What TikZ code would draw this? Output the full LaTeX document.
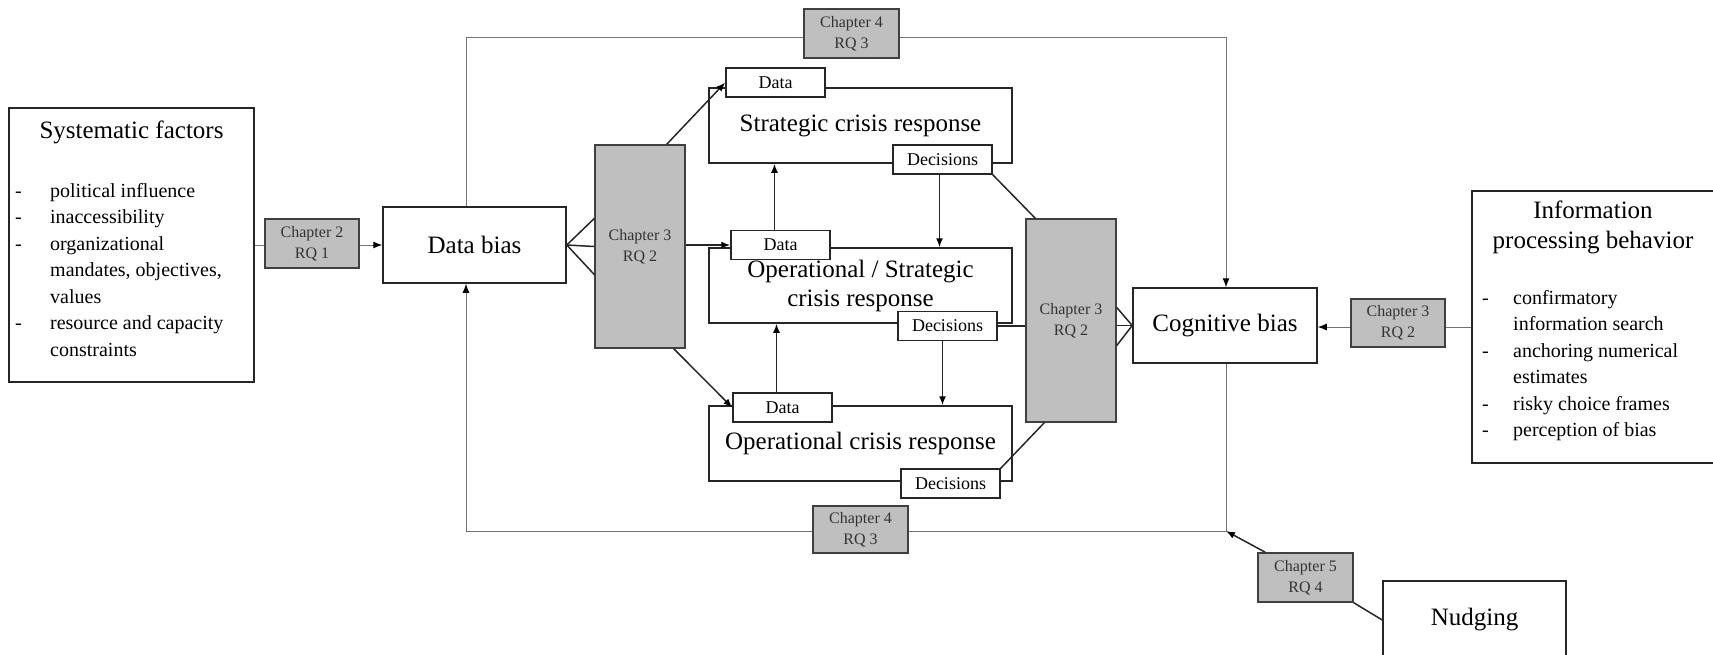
\documentclass[tikz,border=0pt]{standalone}
\usepackage{fontspec}
\setmainfont{Liberation Serif}
\usepackage{tikz}
\usetikzlibrary{arrows.meta}

\begin{document}
\begin{tikzpicture}[x=1pt, y=-1pt, >={Latex[length=9pt,width=7pt,color=black]},
        mainbox/.style={draw=black!85, line width=1.5pt, fill=white, inner sep=0pt, font=\fontsize{25}{29}\selectfont, align=center},
        chapbox/.style={draw=black!75, line width=1.5pt, fill=black!25, inner sep=0pt, minimum width=94pt, minimum height=49pt, font=\fontsize{16}{21}\selectfont, text=black!80, align=center},
        tagbox/.style={draw=black!85, line width=1.5pt, fill=white, inner sep=0pt, minimum width=99pt, minimum height=29pt, font=\fontsize{18}{20}\selectfont},
        listtext/.style={inner sep=0pt, anchor=north west, font=\fontsize{20}{26.5}\selectfont},
        link/.style={draw=black!85, line width=1.5pt},
        loopline/.style={draw=black!55, line width=1pt}]
    \path[use as bounding box, clip] (0,0) rectangle (1713,654);

    \node[mainbox, minimum width=245pt, minimum height=274pt] (factors) at (131.5,245) {};
    \node[anchor=base, inner sep=0pt, font=\fontsize{25}{30}\selectfont] (factorstitle) at (131.5,138) {Systematic factors};
    \node[listtext] (factorslist) at (15,178.45) {\begin{tabular}{@{}p{35pt}@{}l@{}}
            - & political influence\\
            - & inaccessibility\\
            - & organizational\\
              & mandates, objectives,\\
              & values\\
            - & resource and capacity\\
              & constraints
        \end{tabular}};

    \node[mainbox, minimum width=243pt, minimum height=272pt] (behavior) at (1593.5,327) {};
    \node[anchor=north, inner sep=0pt, align=center, font=\fontsize{25}{30}\selectfont] (behaviortitle) at (1593,197) {\strut Information\\processing behavior};
    \node[listtext] (behaviorlist) at (1482,285.5) {\begin{tabular}{@{}p{31pt}@{}l@{}}
            - & confirmatory\\
              & information search\\
            - & anchoring numerical\\
              & estimates\\
            - & risky choice frames\\
            - & perception of bias
        \end{tabular}};

    \node[mainbox, minimum width=183pt, minimum height=76pt] (dbias) at (474.5,245) {Data bias};
    \node[mainbox, minimum width=184pt, minimum height=75pt] (cog) at (1225,325.5) {Cognitive bias};
    \node[mainbox, minimum width=183pt, minimum height=78pt] (nudge) at (1474.5,620) {Nudging};

    \node[mainbox, minimum width=303pt, minimum height=75pt] (strat) at (860.5,125.5) {Strategic crisis response};
    \node[mainbox, minimum width=303pt, minimum height=75pt] (opstrat) at (860.5,285.5) {Operational / Strategic\\crisis response};
    \node[mainbox, minimum width=303pt, minimum height=75pt] (oper) at (860.5,443.5) {Operational crisis response};

    \node[tagbox] (stratdata) at (775.5,82.5) {Data};
    \node[tagbox] (stratdec) at (942.5,159.5) {Decisions};
    \node[tagbox] (opstratdata) at (780.5,245) {Data};
    \node[tagbox] (opstratdec) at (947.5,326) {Decisions};
    \node[tagbox] (operdata) at (782.5,407.5) {Data};
    \node[tagbox] (operdec) at (950.5,483.5) {Decisions};

    \node[chapbox, minimum width=90pt, minimum height=203pt] (chapL) at (640,246.5) {Chapter 3\\RQ 2};
    \node[chapbox, minimum width=90pt, minimum height=203pt] (chapR) at (1071,320.5) {Chapter 3\\RQ 2};
    \node[chapbox, minimum width=95pt] (chapfive) at (1305.5,577.5) {Chapter 5\\RQ 4};

    \foreach \dy in {28,0,-28}
        \draw[link] (dbias.east) -- ([yshift=\dy pt]chapL.west);
    \draw[link, ->] ([xshift=-19pt]chapL.north east) -- (stratdata.west);
    \draw[link, ->] (chapL.east |- opstratdata.west) -- (opstratdata.west);
    \draw[link, ->] ([xshift=-12pt]chapL.south east) -- (operdata.west);

    \draw[link, ->] ([xshift=-6pt]opstratdata.north) -- ([xshift=-6pt]opstratdata.north |- strat.south);
    \draw[link, ->] ([xshift=-6pt]operdata.north) -- ([xshift=-6pt]operdata.north |- opstrat.south);
    \draw[link, ->] ([xshift=-3pt]stratdec.south) -- ([xshift=-3pt]stratdec.south |- opstrat.north);
    \draw[link, ->] ([xshift=-5pt]opstratdec.south) -- ([xshift=-5pt]opstratdec.south |- oper.north);

    \draw[link] (stratdec.south east) -- ([xshift=10pt]chapR.north west);
    \draw[link] (opstratdec.east) -- (opstratdec.east -| chapR.west);
    \draw[link] (operdec.north east) -- ([xshift=19pt]chapR.south west);

    \coordinate (fanR) at (chapR.east |- cog.west);
    \foreach \dy in {18,0,-20}
        \draw[link] ([yshift=\dy pt]fanR) -- (cog.west);

    \coordinate (loopTL) at (466,37);
    \coordinate (loopTR) at (1226,37);
    \coordinate (loopBL) at (466,531);
    \coordinate (loopBR) at (1226,531);
    \draw[loopline, ->] (loopTL |- dbias.north) -- (loopTL) -- (loopTR) -- (loopTR |- cog.north);
    \draw[loopline, ->] (loopTR |- cog.south) -- (loopBR) -- (loopBL) -- (loopBL |- dbias.south);
    \draw[loopline, ->] (factors.east) -- (dbias.west);
    \draw[loopline, ->] (behavior.west) -- (behavior.west -| cog.east);
    \draw[link, ->] ([xshift=8pt]chapfive.north west) -- (loopBR);
    \draw[link] (chapfive.south east) -- (nudge.west);

    \node[chapbox] (chaptwo) at (312,243.5) {Chapter 2\\RQ 1};
    \node[chapbox, minimum width=95pt] (chapfourtop) at (851.5,33.5) {Chapter 4\\RQ 3};
    \node[chapbox, minimum width=95pt, minimum height=47pt] (chapfourbot) at (860.5,529.5) {Chapter 4\\RQ 3};
    \node[chapbox, minimum height=48pt] (chapthree) at (1398,323) {Chapter 3\\RQ 2};
\end{tikzpicture}
\end{document}
